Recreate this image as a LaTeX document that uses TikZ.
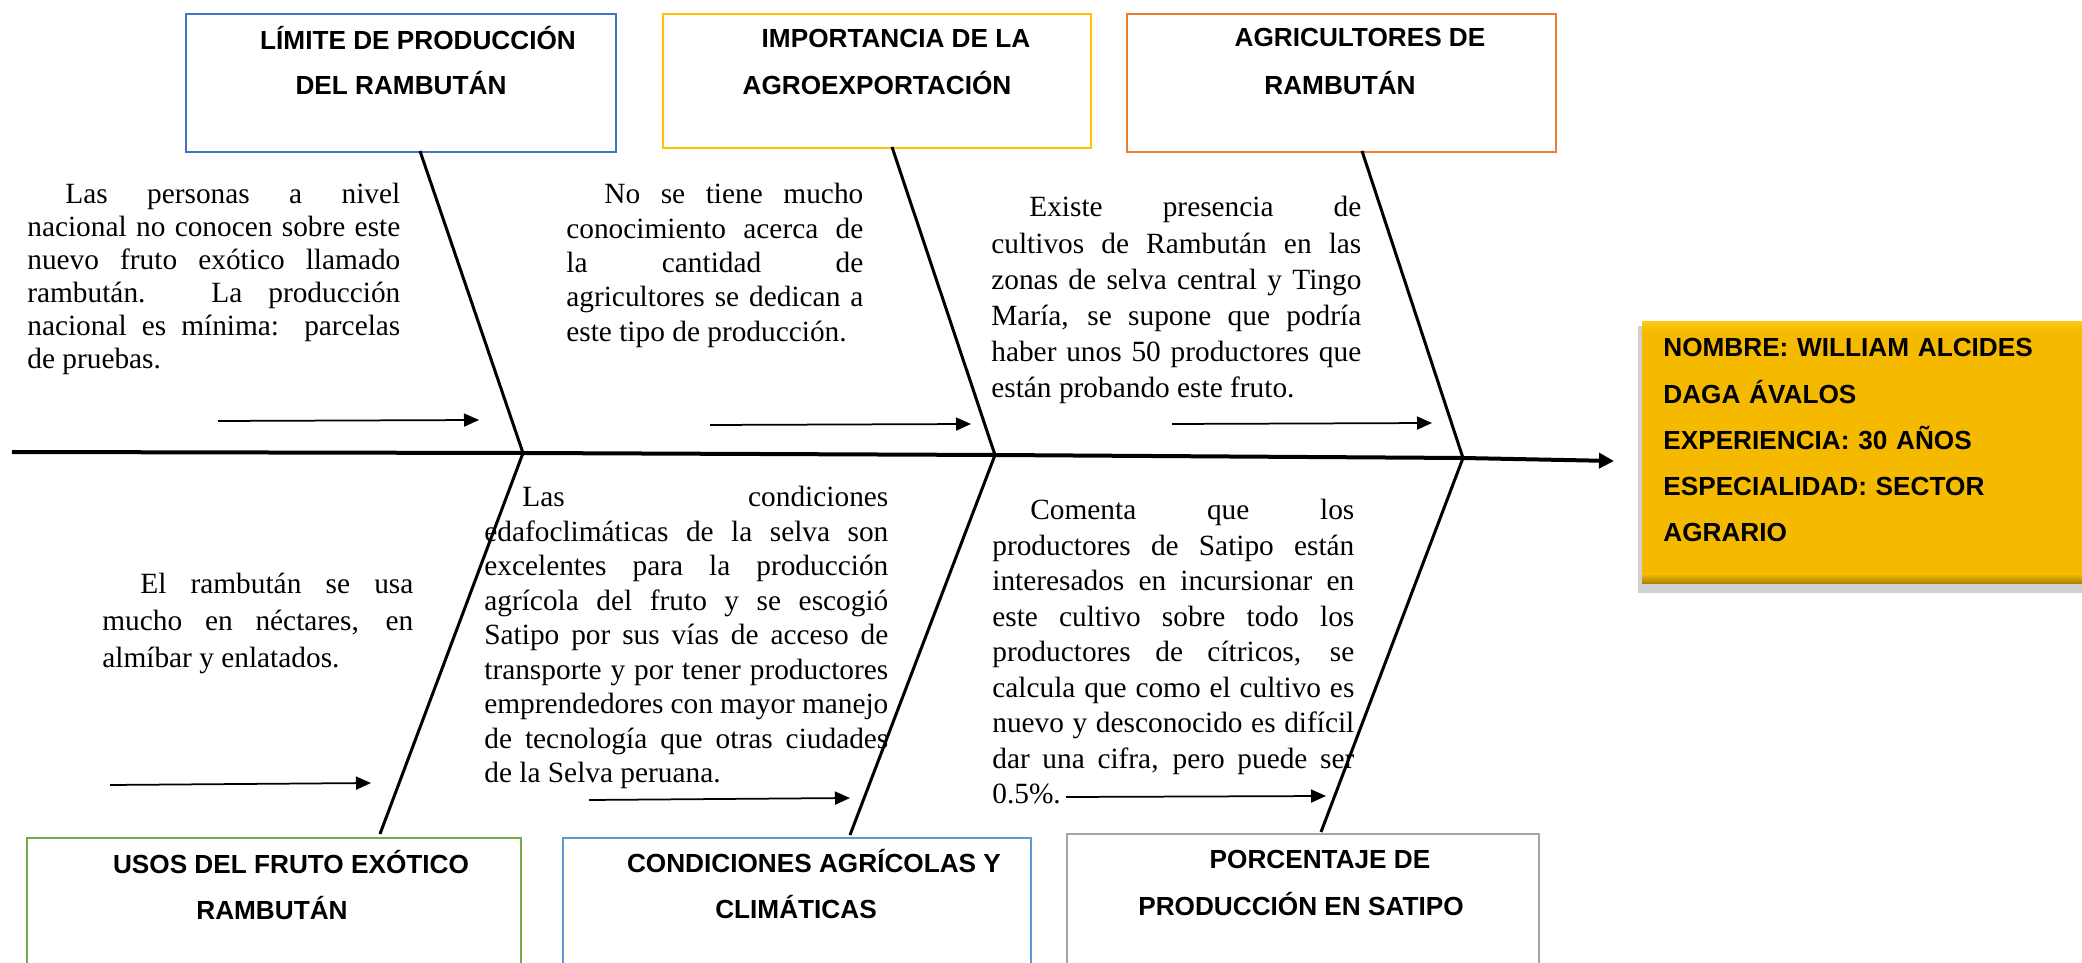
\documentclass[tikz,border=0pt]{standalone}
\usepackage{fontspec}
\setmainfont{Liberation Serif}
\newfontfamily\headfont{Liberation Sans}
\usetikzlibrary{arrows.meta,shadows}
\definecolor{lineblue}{HTML}{4472C4}
\definecolor{linegold}{HTML}{FFC000}
\definecolor{lineorange}{HTML}{ED7D31}
\definecolor{linegreen}{HTML}{70AD47}
\definecolor{linesky}{HTML}{5B9BD5}
\definecolor{linegray}{HTML}{A5A5A5}
\definecolor{goldfill}{HTML}{F5BA00}
\definecolor{goldlight}{HTML}{FFC814}
\definecolor{golddark}{HTML}{A87C00}
\hyphenpenalty=10000
\exhyphenpenalty=10000
\tolerance=10000

\begin{document}
\begin{tikzpicture}[x=0.2mm,y=-0.2mm,
    spine/.style={line width=0.8mm,-{Triangle[length=3mm,width=3mm]}},
    bone/.style={line width=0.6mm},
    cue/.style={line width=0.35mm,-{Triangle[length=3mm,width=2.6mm]}},
    catbox/.style={draw,line width=0.45mm,anchor=north west,inner sep=0pt},
    cattitle/.style={anchor=base,inner sep=0pt,
      font=\headfont\bfseries\fontsize{14.9pt}{18pt}\selectfont},
    note/.style={anchor=base west,inner sep=0pt,align=justify,
      font=\fontsize{16.7pt}{#1}\selectfont}]
  \useasboundingbox (0,0) rectangle (2082,963);
  \clip (0,0) rectangle (2082,963);

  \node[catbox,draw=lineblue,minimum width=86mm,minimum height=27.6mm] (limite) at (185,13) {};
  \node[catbox,draw=linegold,minimum width=85.6mm,minimum height=26.8mm] (importancia) at (662,13) {};
  \node[catbox,draw=lineorange,minimum width=85.8mm,minimum height=27.6mm] (agricultores) at (1126,13) {};
  \node[catbox,draw=linegreen,minimum width=98.8mm,minimum height=28mm] (usos) at (26,837) {};
  \node[catbox,draw=linesky,minimum width=93.6mm,minimum height=28mm] (condiciones) at (562,837) {};
  \node[catbox,draw=linegray,minimum width=94.4mm,minimum height=29mm] (porcentaje) at (1066,833) {};

  \node[cattitle] (limite-1) at (418,50) {LÍMITE DE PRODUCCIÓN};
  \node[cattitle] (limite-2) at (401,95) {DEL RAMBUTÁN};
  \node[cattitle] (importancia-1) at (896,48) {IMPORTANCIA DE LA};
  \node[cattitle] (importancia-2) at (877,95) {AGROEXPORTACIÓN};
  \node[cattitle] (agricultores-1) at (1360,47) {AGRICULTORES DE};
  \node[cattitle] (agricultores-2) at (1340,95) {RAMBUTÁN};
  \node[cattitle] (usos-1) at (291,873) {USOS DEL FRUTO EXÓTICO};
  \node[cattitle] (usos-2) at (272,919) {RAMBUTÁN};
  \node[cattitle] (condiciones-1) at (814,872) {CONDICIONES AGRÍCOLAS Y};
  \node[cattitle] (condiciones-2) at (796,918) {CLIMÁTICAS};
  \node[cattitle] (porcentaje-1) at (1320,868) {PORCENTAJE DE};
  \node[cattitle] (porcentaje-2) at (1301,915) {PRODUCCIÓN EN SATIPO};

  \node[fill=goldfill,anchor=north west,inner sep=0pt,minimum width=90mm,minimum height=52.4mm,
    drop shadow={shadow xshift=0mm,shadow yshift=-1.2mm,shadow scale=1.02,fill=black,opacity=0.18}]
    (datos) at (1642,322) {};
  \shade[top color=goldlight,bottom color=goldfill] (1642,322) rectangle (2082,332);
  \shade[top color=goldfill,bottom color=golddark] (1642,574) rectangle (2082,584);
  \node[anchor=base west,inner sep=0pt,text width=80mm,align=left,
    font=\headfont\bfseries\fontsize{14.9pt}{26.2pt}\selectfont] (datos-txt) at (1663,357)
    {NOMBRE: WILLIAM ALCIDES\\DAGA ÁVALOS\\EXPERIENCIA: 30 AÑOS\\ESPECIALIDAD: SECTOR\\AGRARIO};

  \coordinate (tail) at (12,452);
  \coordinate (j1) at (523,453);
  \coordinate (j2) at (995,455);
  \coordinate (j3) at (1463,458);
  \coordinate (head) at (1614,461);
  \coordinate (limite-foot) at (420,151);
  \coordinate (importancia-foot) at (892,147);
  \coordinate (agricultores-foot) at (1362,151);
  \coordinate (usos-top) at (380,834);
  \coordinate (condiciones-top) at (850,835);
  \coordinate (porcentaje-top) at (1321,832);

  \draw[spine] (tail) -- (j1) -- (j2) -- (j3) -- (head);
  \draw[bone] (limite-foot) -- (j1) -- (usos-top);
  \draw[bone] (importancia-foot) -- (j2) -- (condiciones-top);
  \draw[bone] (agricultores-foot) -- (j3) -- (porcentaje-top);

  \foreach \n/\xa/\ya/\xb/\yb in {a1/218/421/479/420, a2/710/425/971/424, a3/1172/424/1432/423,
      b1/110/785/371/783, b2/589/800/850/798, b3/1066/797/1326/796}
  {
    \coordinate (\n-s) at (\xa,\ya);
    \coordinate (\n-e) at (\xb,\yb);
    \draw[cue] (\n-s) -- (\n-e);
  }

  \node[note=18.7pt,text width=74.6mm] (nota-limite) at (27,204)
    {\hspace*{7.6mm}Las personas a nivel\linebreak nacional no conocen sobre este\linebreak
     nuevo fruto exótico llamado\linebreak rambután. La producción\linebreak
     nacional es mínima: parcelas\linebreak de pruebas.};
  \node[note=19.5pt,text width=59.4mm] (nota-importancia) at (566,204)
    {\hspace*{7.6mm}No se tiene mucho\linebreak conocimiento acerca de\linebreak
     la cantidad de\linebreak agricultores se dedican a\linebreak este tipo de producción.};
  \node[note=20.5pt,text width=74mm] (nota-agricultores) at (991,217)
    {\hspace*{7.6mm}Existe presencia de\linebreak cultivos de Rambután en las\linebreak
     zonas de selva central y Tingo\linebreak María, se supone que podría\linebreak
     haber unos 50 productores que\linebreak están probando este fruto.};
  \node[note=21pt,text width=62.2mm] (nota-usos) at (102,594)
    {\hspace*{7.6mm}El rambután se usa\linebreak mucho en néctares, en\linebreak
     almíbar y enlatados.};
  \node[note=19.6pt,text width=80.8mm] (nota-condiciones) at (484,507)
    {\hspace*{7.6mm}Las condiciones\linebreak edafoclimáticas de la selva son\linebreak
     excelentes para la producción\linebreak agrícola del fruto y se escogió\linebreak
     Satipo por sus vías de acceso de\linebreak transporte y por tener productores\linebreak
     emprendedores con mayor manejo\linebreak de tecnología que otras ciudades\linebreak
     de la Selva peruana.};
  \node[note=20.2pt,text width=72.4mm] (nota-porcentaje) at (992,520)
    {\hspace*{7.6mm}Comenta que los\linebreak productores de Satipo están\linebreak
     interesados en incursionar en\linebreak este cultivo sobre todo los\linebreak
     productores de cítricos, se\linebreak calcula que como el cultivo es\linebreak
     nuevo y desconocido es difícil\linebreak dar una cifra, pero puede ser\linebreak
     0.5\%.};
\end{tikzpicture}
\end{document}
